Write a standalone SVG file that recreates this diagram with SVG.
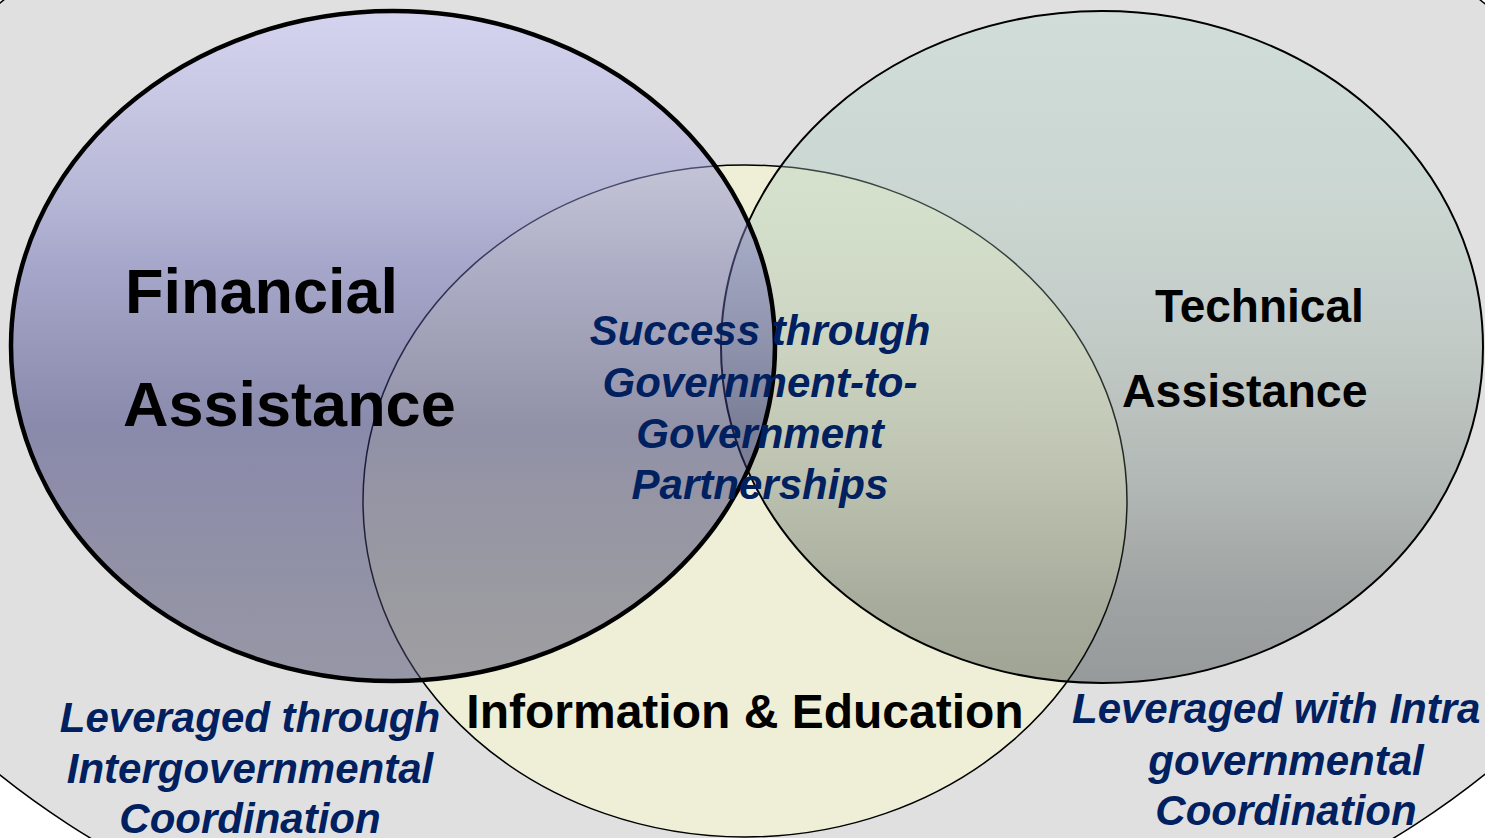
<svg xmlns="http://www.w3.org/2000/svg" width="1485" height="838" viewBox="0 0 1485 838">
<style>
.lbl{font-family:"Liberation Sans",Arial,sans-serif;font-weight:bold;fill:#000}
.it{font-family:"Liberation Sans",Arial,sans-serif;font-weight:bold;font-style:italic;fill:#002060;font-size:42px}
</style>
<defs>
<linearGradient id="gFin" x1="0" y1="0" x2="0" y2="1">
<stop offset="0" stop-color="#c8c8ff"/>
<stop offset="0.13" stop-color="#b0b0e8"/>
<stop offset="0.28" stop-color="#8c8ccc"/>
<stop offset="0.37" stop-color="#7070b8"/>
<stop offset="0.62" stop-color="#343478"/>
<stop offset="0.87" stop-color="#46466c"/>
<stop offset="1" stop-color="#504e6e"/>
</linearGradient>
<linearGradient id="gTec" x1="0" y1="0" x2="0" y2="1">
<stop offset="0" stop-color="#b2d7c9"/>
<stop offset="0.3" stop-color="#a2c3b5"/>
<stop offset="0.5" stop-color="#8aa196"/>
<stop offset="0.7" stop-color="#5d6e65"/>
<stop offset="0.88" stop-color="#232f2f"/>
<stop offset="1" stop-color="#0d1818"/>
</linearGradient>
</defs>
<rect width="1485" height="838" fill="#ffffff"/>
<g id="background">
<ellipse cx="742" cy="389" rx="952" ry="616" fill="#e0e0e0" stroke="#000" stroke-width="1.5"/>
</g>
<g id="info">
<ellipse cx="745" cy="501" rx="382" ry="336" fill="#efefd7" stroke="#000" stroke-width="1.5"/>
</g>
<g id="technical">
<ellipse cx="1102" cy="347" rx="381" ry="336" fill="url(#gTec)" fill-opacity="0.35" stroke="#000" stroke-width="2"/>
</g>
<g id="financial">
<ellipse cx="393" cy="346" rx="382" ry="335" fill="url(#gFin)" fill-opacity="0.5" stroke="#000" stroke-width="4.5"/>
</g>
<g id="connectors"></g>
<g id="labels">
<text class="lbl" x="125" y="313" font-size="63">Financial</text>
<text class="lbl" x="123" y="426" font-size="63">Assistance</text>
<text class="lbl" x="1155" y="322" font-size="46">Technical</text>
<text class="lbl" x="1122" y="407" font-size="46.5">Assistance</text>
<text class="lbl" x="745" y="728" font-size="48" text-anchor="middle">Information &amp; Education</text>
<g text-anchor="middle">
<text class="it" x="760" y="345">Success through</text>
<text class="it" x="760" y="397">Government-to-</text>
<text class="it" x="760" y="448">Government</text>
<text class="it" x="760" y="499">Partnerships</text>
<text class="it" x="250" y="732">Leveraged through</text>
<text class="it" x="250" y="783">Intergovernmental</text>
<text class="it" x="250" y="833">Coordination</text>
<text class="it" x="1286" y="775">governmental</text>
<text class="it" x="1286" y="825">Coordination</text>
</g>
<text class="it" x="1072" y="723">Leveraged with Intra</text>
</g>
</svg>
